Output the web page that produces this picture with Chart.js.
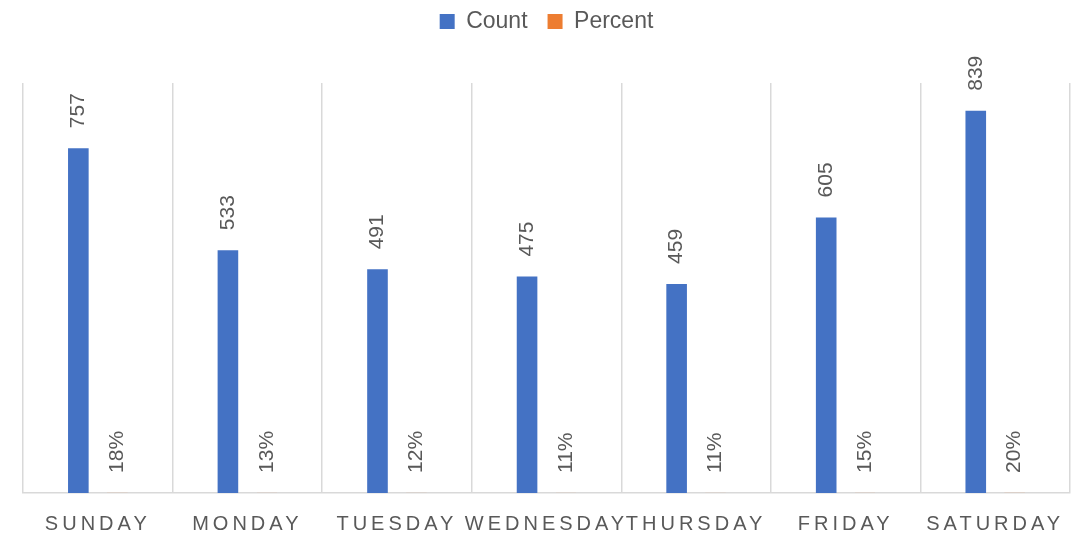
<!DOCTYPE html>
<html>
<head>
<meta charset="utf-8">
<script src="https://cdn.jsdelivr.net/npm/chart.js@4.4.1/dist/chart.umd.min.js"></script>
<style>
  body { margin: 0; background: #fff; }
  #wrap { width: 1084px; height: 534px; }
</style>
</head>
<body>
<div id="wrap"><canvas id="dayChart" width="1084" height="534"></canvas></div>
<script>
// 요일별 데이터
const days = ['SUNDAY', 'MONDAY', 'TUESDAY', 'WEDNESDAY', 'THURSDAY', 'FRIDAY', 'SATURDAY'];
const counts = [757, 533, 491, 475, 459, 605, 839];
const percents = [0.18, 0.13, 0.12, 0.11, 0.11, 0.15, 0.20];

const textColor = '#595959';
const gridColor = '#d9d9d9';
const fontFamily = '"Liberation Sans", Arial, sans-serif';

// 막대 위에 세로 레이블 그리기
const barLabels = {
    id: 'barLabels',
    afterDatasetsDraw(chart) {
        const ctx = chart.ctx;
        chart.data.datasets.forEach((ds, i) => {
            const meta = chart.getDatasetMeta(i);
            meta.data.forEach((bar, j) => {
                const v = ds.data[j];
                const txt = i === 1 ? Math.round(v * 100) + '%' : String(v);
                ctx.save();
                ctx.translate(bar.x, bar.y - 20);
                ctx.rotate(-Math.PI / 2);
                ctx.font = '21px ' + fontFamily;
                ctx.fillStyle = textColor;
                ctx.textAlign = 'left';
                ctx.textBaseline = 'middle';
                ctx.fillText(txt, 0, 0);
                ctx.restore();
            });
        });
    }
};

// x축 레이블 자간 + 범례 아래 여백
const tweaks = {
    id: 'tweaks',
    beforeInit(chart) {
        const fit = chart.legend.fit;
        chart.legend.fit = function () {
            fit.call(this);
            this.height += 40;
        };
    },
    beforeDraw(chart) {
        const sc = chart.scales.x;
        if (!sc._spaced) {
            const orig = sc.drawLabels;
            sc.drawLabels = function (area) {
                this.ctx.save();
                this.ctx.letterSpacing = '4px';
                orig.call(this, area);
                this.ctx.restore();
            };
            sc._spaced = true;
        }
    }
};

new Chart(document.getElementById('dayChart'), {
    type: 'bar',
    data: {
        labels: days,
        datasets: [
            {
                label: 'Count',
                data: counts,
                backgroundColor: '#4472C4',
                categoryPercentage: 0.52,
                barPercentage: 0.53,
            },
            {
                label: 'Percent',
                data: percents,
                backgroundColor: '#ED7D31',
                categoryPercentage: 0.52,
                barPercentage: 0.53,
            }
        ]
    },
    options: {
        responsive: false,
        animation: false,
        layout: { padding: { top: -10, left: 23, right: 14, bottom: -21 } },
        plugins: {
            legend: {
                position: 'top',
                labels: {
                    boxWidth: 15,
                    boxHeight: 15,
                    padding: 20,
                    color: textColor,
                    font: { family: fontFamily, size: 23 },
                },
            },
            title: { display: false },
            tooltip: { enabled: false },
        },
        scales: {
            x: {
                offset: true,
                grid: {
                    offset: true,
                    color: gridColor,
                    lineWidth: 1.5,
                    drawTicks: false,
                },
                border: { color: gridColor, width: 1.5 },
                ticks: {
                    color: textColor,
                    padding: 21,
                    maxRotation: 0,
                    minRotation: 0,
                    autoSkip: false,
                    font: { family: fontFamily, size: 20, lineHeight: 1 },
                },
            },
            y: {
                display: false,
                min: 0,
                max: 900,
            }
        }
    },
    plugins: [barLabels, tweaks],
});
</script>
</body>
</html>
